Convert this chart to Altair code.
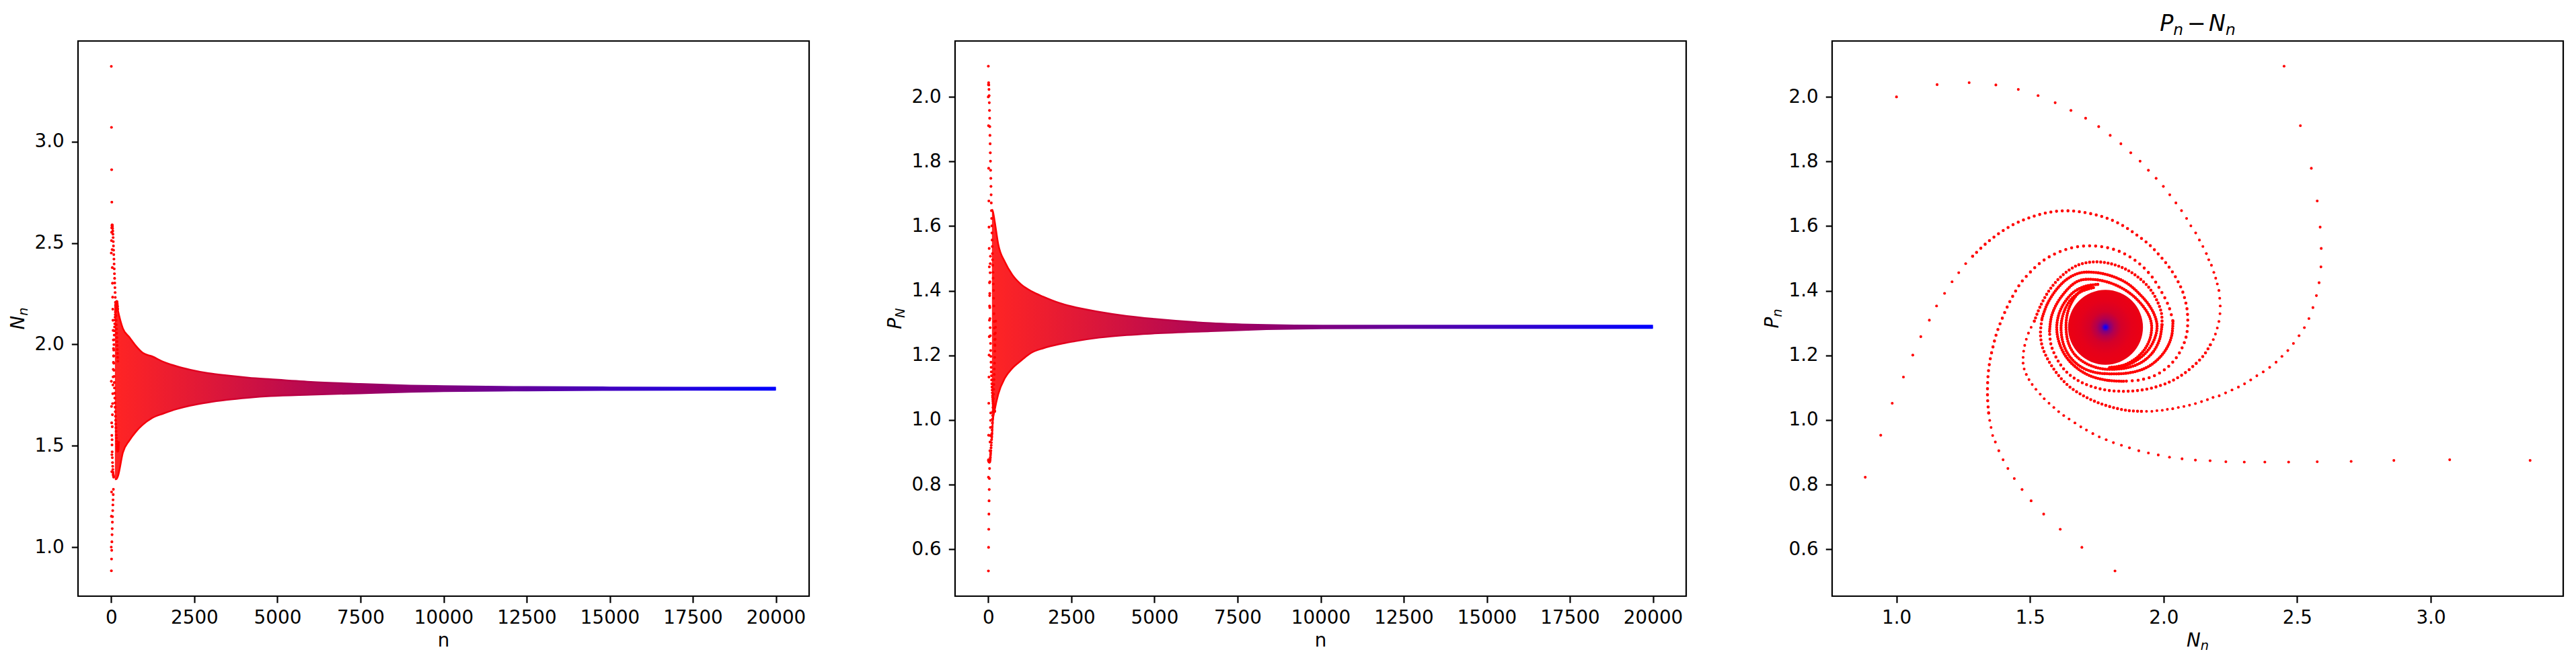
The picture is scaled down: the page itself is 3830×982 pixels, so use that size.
import altair as alt
import pandas as pd

# ---------------- early (sparse) iterates, one list per spiral arm ----------------
# arm order in time: E, A, B, C, D  (n = 5*j + offset)
E_N = [1.000,1.152,1.272,1.372,1.456,1.530,1.594,1.653,1.708,1.757,1.800,1.840,1.877,1.912,1.943,1.972,1.999,2.023,2.046,2.067,
       2.086,2.102,2.120,2.134,2.147,2.160,2.169,2.179,2.188,2.195,2.201,2.207,2.210,2.212,2.211,2.207,2.201,2.194,2.186,2.175]
E_P = [2.000,2.038,2.044,2.037,2.023,2.004,1.982,1.958,1.934,1.908,1.881,1.855,1.827,1.801,1.773,1.748,1.723,1.697,1.672,1.648,
       1.624,1.601,1.579,1.557,1.537,1.515,1.496,1.479,1.457,1.439,1.421,1.401,1.377,1.353,1.329,1.305,1.285,1.266,1.249,1.233]
A_N = [2.451,2.512,2.553,2.575,2.586,2.590,2.589,2.582,2.572,2.559,2.544,2.527,2.507,2.486,2.465,2.443,2.421,2.397,2.373,2.349,
       2.326,2.303,2.280,2.256,2.232,2.208,2.185,2.164,2.142,2.119,2.097,2.076,2.055,2.034,2.014,1.995,1.975,1.956,1.936,1.917]
A_P = [2.095,1.911,1.779,1.678,1.597,1.531,1.474,1.425,1.385,1.348,1.314,1.286,1.261,1.237,1.215,1.197,1.179,1.163,1.149,1.137,
       1.124,1.112,1.102,1.093,1.084,1.075,1.070,1.063,1.057,1.051,1.046,1.042,1.039,1.035,1.033,1.030,1.029,1.027,1.027,1.027]
B_N = [3.372,3.071,2.862,2.702,2.575,2.468,2.379,2.302,2.233,2.174,2.119,2.069,2.022,1.980,1.943,1.907,1.872,1.842,1.812,1.785,
       1.759,1.735,1.711,1.690,1.668,1.646,1.626,1.607,1.589,1.571,1.553,1.538,1.522,1.508,1.496,1.486,1.478,1.474,1.474,1.476,
       1.480,1.486,1.494,1.504,1.516]
B_P = [0.875,0.877,0.875,0.872,0.871,0.870,0.870,0.870,0.871,0.874,0.876,0.880,0.885,0.892,0.898,0.905,0.914,0.922,0.930,0.939,
       0.948,0.958,0.969,0.979,0.991,1.003,1.014,1.026,1.039,1.052,1.066,1.080,1.095,1.110,1.125,1.141,1.158,1.176,1.194,1.213,
       1.231,1.250,1.269,1.287,1.306]
C_N = [1.818,1.694,1.613,1.551,1.504,1.470,1.441,1.417,1.399,1.383,1.370,1.360,1.354,1.349,1.345]
C_P = [0.533,0.606,0.662,0.709,0.750,0.785,0.819,0.850,0.877,0.905,0.932,0.952,0.977,0.999,1.022]
D_N = [0.883,0.941,0.984,1.026,1.061,1.091,1.123,1.150,1.180,1.208,1.233,1.259,1.285]
D_P = [0.823,0.953,1.052,1.133,1.201,1.258,1.309,1.353,1.392,1.428,1.456,1.484,1.507]

# ---------------- denser continuation of every arm (phase plane) ----------------
E_out_N = [2.175,2.150,2.115,2.070,2.020,1.960,1.900,1.849,1.790,1.730,1.680,1.635,1.600,1.578,1.573]
E_out_P = [1.233,1.200,1.170,1.140,1.117,1.100,1.091,1.089,1.092,1.104,1.122,1.150,1.190,1.235,1.275]
E_in_N = [1.573,1.580,1.600,1.630,1.660,1.690,1.740,1.790,1.840,1.885,1.925,1.947,1.955,1.950,1.930,1.895,1.850,1.790]
E_in_P = [1.275,1.320,1.360,1.395,1.420,1.433,1.435,1.427,1.410,1.385,1.350,1.320,1.292,1.255,1.220,1.190,1.170,1.162]
A_out_N = [1.917,1.870,1.820,1.760,1.700,1.645,1.600,1.565,1.545,1.539,1.545]
A_out_P = [1.027,1.029,1.037,1.052,1.075,1.105,1.145,1.190,1.230,1.270,1.315]
A_in_N = [1.545,1.565,1.600,1.640,1.685,1.740,1.800,1.860,1.910,1.950,1.972,1.975,1.960,1.930,1.885,1.835,1.790]
A_in_P = [1.315,1.360,1.405,1.437,1.455,1.457,1.447,1.425,1.390,1.350,1.310,1.280,1.240,1.205,1.178,1.162,1.158]
B_out_N = [1.516,1.540,1.575,1.620,1.675,1.730,1.790,1.850,1.900,1.945,1.975,1.992,1.994]
B_out_P = [1.306,1.355,1.405,1.447,1.478,1.489,1.486,1.470,1.445,1.410,1.370,1.330,1.295]
B_in_N = [1.994,1.985,1.960,1.920,1.870,1.810,1.760,1.710,1.670,1.645,1.635,1.640,1.660,1.690,1.730]
B_in_P = [1.295,1.250,1.210,1.180,1.163,1.157,1.160,1.175,1.200,1.235,1.280,1.330,1.370,1.400,1.415]
C_out_N = [1.345,1.341,1.341,1.344,1.351,1.362,1.375,1.393,1.414,1.437,1.466,1.500,1.539,1.578,1.627,1.675,1.723,1.780,
           1.840,1.900,1.950,1.990,2.020,2.035]
C_out_P = [1.022,1.066,1.109,1.149,1.189,1.229,1.269,1.309,1.349,1.386,1.425,1.457,1.487,1.508,1.526,1.536,1.539,1.535,
           1.520,1.490,1.450,1.400,1.350,1.305]
C_in_N = [2.035,2.030,2.010,1.975,1.930,1.870,1.800,1.740,1.690,1.650,1.625,1.616,1.625,1.650,1.690,1.740]
C_in_P = [1.305,1.260,1.220,1.185,1.160,1.146,1.143,1.148,1.165,1.195,1.235,1.285,1.330,1.370,1.397,1.410]
D_out_N = [1.285,1.336,1.386,1.435,1.481,1.527,1.572,1.615,1.658,1.699,1.741,1.776,1.811,1.845,1.877,1.907,1.936,1.961,
           1.984,2.006,2.025,2.043,2.058,2.071,2.080,2.087,2.090,2.090,2.085,2.070,2.045,2.010,1.965,1.910,1.850]
D_out_P = [1.507,1.547,1.579,1.604,1.621,1.634,1.643,1.647,1.647,1.643,1.636,1.628,1.617,1.603,1.586,1.568,1.550,1.531,
           1.510,1.489,1.468,1.445,1.422,1.398,1.373,1.347,1.320,1.293,1.260,1.225,1.190,1.160,1.137,1.124,1.120]
D_in_N = [1.850,1.790,1.730,1.680,1.640,1.612,1.600,1.607,1.630,1.665,1.710,1.760]
D_in_P = [1.120,1.123,1.135,1.158,1.190,1.232,1.280,1.325,1.365,1.397,1.415,1.420]

# equilibrium the orbit settles on
EQ_N = 1.7825
EQ_P = 1.287

# ---------------- envelope of the dense oscillation (time series) ----------------
envN_n  = [110, 150, 200, 350, 550, 750, 950, 1230, 1570, 1970, 2380, 2920, 3460, 4130, 4800, 6000, 7500, 9000, 10000, 12500, 15000, 17500, 20000]
envN_hi = [2.19, 2.212, 2.17, 2.079, 2.035, 1.991, 1.958, 1.941, 1.914, 1.892, 1.875, 1.858, 1.847, 1.836, 1.828, 1.815, 1.805, 1.797, 1.794, 1.790, 1.788, 1.787, 1.787]
envN_lo = [1.335, 1.335, 1.349, 1.466, 1.527, 1.571, 1.604, 1.637, 1.659, 1.681, 1.698, 1.714, 1.726, 1.737, 1.745, 1.752, 1.759, 1.766, 1.769, 1.773, 1.775, 1.776, 1.776]
envP_n  = [110, 140, 185, 300, 500, 720, 975, 1310, 1650, 2150, 2500, 3330, 4170, 5000, 6690, 8370, 10050, 12500, 15000, 20000]
envP_hi = [1.652, 1.645, 1.62, 1.544, 1.489, 1.450, 1.421, 1.398, 1.382, 1.362, 1.352, 1.335, 1.322, 1.313, 1.300, 1.294, 1.292, 1.292, 1.292, 1.292]
envP_lo = [0.94, 1.00, 1.027, 1.080, 1.130, 1.160, 1.183, 1.209, 1.222, 1.235, 1.242, 1.255, 1.263, 1.268, 1.275, 1.281, 1.284, 1.285, 1.285, 1.285]

n_ticks = [0, 2500, 5000, 7500, 10000, 12500, 15000, 17500, 20000]
N_ticks = [1.0, 1.5, 2.0, 2.5, 3.0]
P_ticks = [0.6, 0.8, 1.0, 1.2, 1.4, 1.6, 1.8, 2.0]

# ---------------- tables ----------------
arms = [("E", E_N, E_P, 0), ("A", A_N, A_P, 1), ("B", B_N, B_P, 2), ("C", C_N, C_P, 3), ("D", D_N, D_P, 4)]
rows = []
for name, Ns, Ps, off in arms:
    for j, (a, b) in enumerate(zip(Ns, Ps)):
        rows.append({"arm": name, "n": 5 * j + off, "N": a, "P": b})
sparse = pd.DataFrame(rows)

paths = [
    ("E_out", E_out_N, E_out_P, 7.0), ("A_out", A_out_N, A_out_P, 6.0), ("B_out", B_out_N, B_out_P, 5.5),
    ("C_out", C_out_N, C_out_P, 9.0), ("D_out", D_out_N, D_out_P, 8.5),
    ("E_in", E_in_N, E_in_P, 3.5), ("A_in", A_in_N, A_in_P, 3.5), ("B_in", B_in_N, B_in_P, 3.5),
    ("C_in", C_in_N, C_in_P, 3.5), ("D_in", D_in_N, D_in_P, 3.5),
]

bandN = pd.DataFrame({"n": envN_n, "hi": envN_hi, "lo": envN_lo})
bandP = pd.DataFrame({"n": envP_n, "hi": envP_hi, "lo": envP_lo})
ONE = pd.DataFrame({"k": [0]})

W, H = 1087, 826
FS = 27.8
RED = "#ff0000"

xs_n = alt.Scale(domain=[-1000, 21000], nice=False, zero=False)
ys_N = alt.Scale(domain=[0.758, 3.497], nice=False, zero=False)
ys_P = alt.Scale(domain=[0.455, 2.173], nice=False, zero=False)
xs_N = alt.Scale(domain=[0.759, 3.496], nice=False, zero=False)

ax_n = alt.Axis(values=n_ticks, format="d", title=None)
ax_N = alt.Axis(values=N_ticks, format=".1f", title=None)
ax_P = alt.Axis(values=P_ticks, format=".1f", title=None)

col_scale = alt.Scale(domain=[0, 20000], range=["#ff0000", "#0000ff"], interpolate="rgb")
# colour runs from red (n=0) to blue (n=20000); early on the oscillating dots leave
# small white gaps inside the band, so its interior is slightly see-through there
edge_grad = alt.LinearGradient(
    gradient="linear",
    stops=[alt.GradientStop(color="#ff0000", offset=0), alt.GradientStop(color="#0000ff", offset=1)],
    x1=0, x2=1, y1=0, y2=0,
)
fill_grad = alt.LinearGradient(
    gradient="linear",
    stops=[
        alt.GradientStop(color="rgba(255,0,0,0.86)", offset=0),
        alt.GradientStop(color="rgba(223,0,32,0.9)", offset=0.125),
        alt.GradientStop(color="rgba(191,0,64,0.95)", offset=0.25),
        alt.GradientStop(color="rgba(153,0,102,1)", offset=0.4),
        alt.GradientStop(color="rgba(0,0,255,1)", offset=1),
    ],
    x1=0, x2=1, y1=0, y2=0,
)


def txt(s, x, y, size=FS, dx=0, dy=0, angle=0, italic=False, align="left"):
    return alt.Chart(ONE).mark_text(
        text=s, fontSize=size, font="DejaVu Sans", fontStyle="italic" if italic else "normal",
        align=align, baseline="alphabetic", dx=dx, dy=dy, angle=angle, color="black",
    ).encode(x=alt.value(x), y=alt.value(y))


def ylabel(base, sub, bw, sw):
    tot = bw + sw
    return [
        txt(base, -80, H / 2, dx=-tot / 2, angle=270, italic=True),
        txt(sub, -80, H / 2, size=FS * 0.7, dx=-tot / 2 + bw, dy=5, angle=270, italic=True),
    ]


def band_layers(df, ys, ax):
    area = alt.Chart(df).mark_area(color=fill_grad, interpolate="monotone").encode(
        x=alt.X("n:Q", scale=xs_n, axis=ax_n), y=alt.Y("hi:Q", scale=ys, axis=ax), y2="lo:Q")
    top = alt.Chart(df).mark_line(stroke=edge_grad, strokeWidth=2.5, interpolate="monotone").encode(
        x=alt.X("n:Q", scale=xs_n, axis=ax_n), y=alt.Y("hi:Q", scale=ys, axis=ax))
    bot = alt.Chart(df).mark_line(stroke=edge_grad, strokeWidth=2.5, interpolate="monotone").encode(
        x=alt.X("n:Q", scale=xs_n, axis=ax_n), y=alt.Y("lo:Q", scale=ys, axis=ax))
    return [area, top, bot]


XT_Y = 901

# ---------------- panel 1: N_n vs n ----------------
p1_pts = alt.Chart(sparse).mark_circle(size=17, opacity=1).encode(
    x=alt.X("n:Q", scale=xs_n, axis=ax_n), y=alt.Y("N:Q", scale=ys_N, axis=ax_N),
    color=alt.Color("n:Q", scale=col_scale, legend=None))
p1 = alt.layer(p1_pts, *band_layers(bandN, ys_N, ax_N), txt("n", W / 2, XT_Y, align="center"),
               *ylabel("N", "n", 20.8, 12.4)).properties(width=W, height=H)

# ---------------- panel 2: P_N vs n ----------------
p2_pts = alt.Chart(sparse).mark_circle(size=17, opacity=1).encode(
    x=alt.X("n:Q", scale=xs_n, axis=ax_n), y=alt.Y("P:Q", scale=ys_P, axis=ax_P),
    color=alt.Color("n:Q", scale=col_scale, legend=None))
p2 = alt.layer(p2_pts, *band_layers(bandP, ys_P, ax_P), txt("n", W / 2, XT_Y, align="center"),
               *ylabel("P", "N", 16.8, 14.6)).properties(width=W, height=H)

# ---------------- panel 3: phase plane ----------------
layers3 = []
for seg, Ns, Ps, gap in paths:
    df = pd.DataFrame({"N": Ns, "P": Ps, "ord": list(range(len(Ns)))})
    layers3.append(
        alt.Chart(df).mark_line(color=RED, strokeWidth=4.6, strokeDash=[0, gap], strokeCap="round",
                                interpolate="catmull-rom").encode(
            x=alt.X("N:Q", scale=xs_N, axis=ax_N), y=alt.Y("P:Q", scale=ys_P, axis=ax_P), order="ord:Q"))
layers3.append(
    alt.Chart(sparse).mark_circle(size=17, opacity=1, color=RED).encode(
        x=alt.X("N:Q", scale=xs_N, axis=ax_N), y=alt.Y("P:Q", scale=ys_P, axis=ax_P)))
disk_grad = alt.RadialGradient(
    gradient="radial",
    stops=[
        alt.GradientStop(color="#0000ff", offset=0.0),
        alt.GradientStop(color="#2200e8", offset=0.04),
        alt.GradientStop(color="#800080", offset=0.11),
        alt.GradientStop(color="#b2004e", offset=0.24),
        alt.GradientStop(color="#d40029", offset=0.42),
        alt.GradientStop(color="#e5001a", offset=0.7),
        alt.GradientStop(color="#ec0012", offset=1.0),
    ],
    x1=0.5, y1=0.5, r1=0, x2=0.5, y2=0.5, r2=0.5,
)
layers3.append(
    alt.Chart(pd.DataFrame({"N": [EQ_N], "P": [EQ_P]})).mark_circle(size=12400, opacity=1, fill=disk_grad).encode(
        x=alt.X("N:Q", scale=xs_N, axis=ax_N), y=alt.Y("P:Q", scale=ys_P, axis=ax_P)))
# x label N_n
layers3.append(txt("N", W / 2, XT_Y, dx=-16.6, italic=True))
layers3.append(txt("n", W / 2, XT_Y, size=FS * 0.7, dx=4.2, dy=5, italic=True))
layers3 += ylabel("P", "n", 16.8, 12.4)
# title P_n - N_n
TS = 33.4
TY = -15.5
layers3.append(txt("P", W / 2, TY, size=TS, dx=-56.3, italic=True))
layers3.append(txt("n", W / 2, TY, size=TS * 0.7, dx=-36.2, dy=6, italic=True))
layers3.append(txt("\u2212", W / 2, TY, size=TS, dx=-1.5, align="center"))
layers3.append(txt("N", W / 2, TY, size=TS, dx=16.5, italic=True))
layers3.append(txt("n", W / 2, TY, size=TS * 0.7, dx=41.5, dy=6, italic=True))
p3 = alt.layer(*layers3).properties(width=W, height=H)

chart = (
    alt.hconcat(p1, p2, p3, spacing=217, bounds="flush")
    .properties(padding={"left": 4, "top": 9, "right": 4, "bottom": 4}, background="white")
    .configure_view(stroke="black", strokeWidth=2.2)
    .configure_axis(domain=False, grid=False, ticks=True, tickColor="black", tickWidth=2.2, tickSize=9.7,
                    labelFont="DejaVu Sans", labelFontSize=FS, labelColor="black",
                    labelFlush=False, labelOverlap=False)
    .configure_axisX(labelPadding=9)
    .configure_axisY(labelPadding=11)
)

chart.save("out.html", embed_options={"renderer": "svg", "actions": False})
